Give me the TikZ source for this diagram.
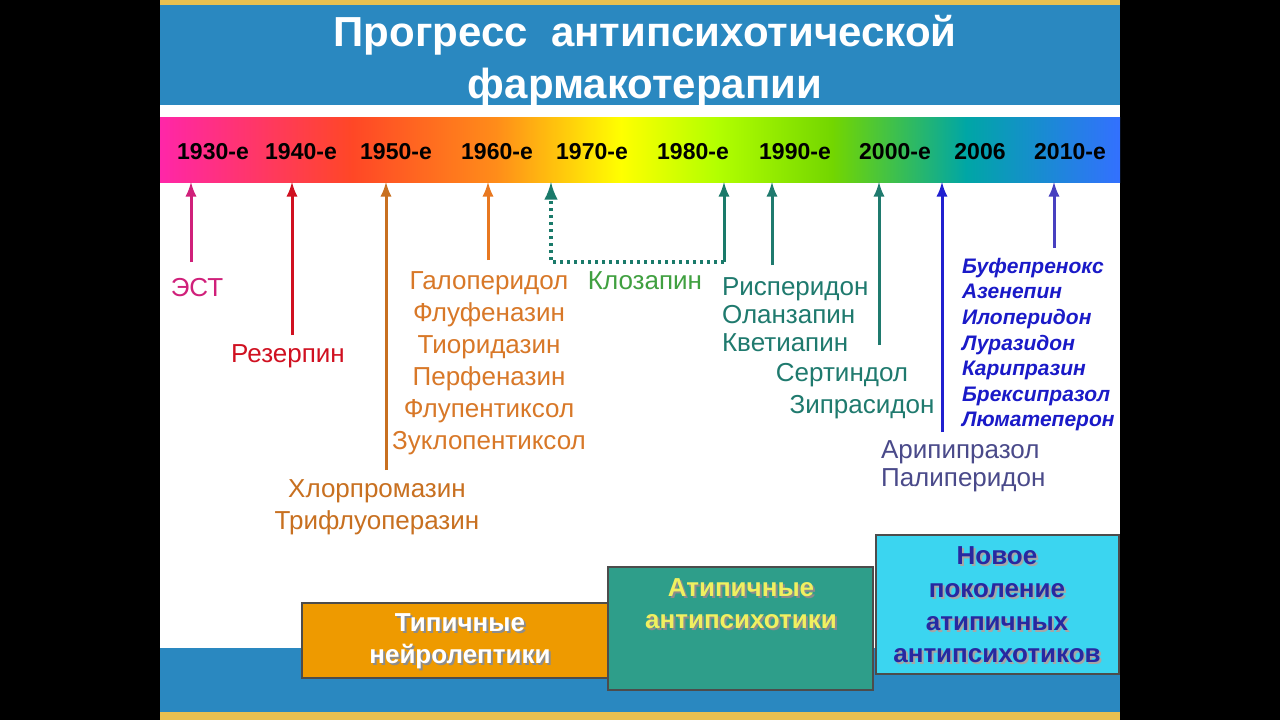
\documentclass[tikz,border=0pt]{standalone}
\usepackage{fontspec}
\setmainfont{Liberation Sans}
\begin{document}
\definecolor{tband}{HTML}{2A88C0}
\definecolor{gold}{HTML}{E8C050}
\pgfdeclarehorizontalshading{rainbow}{100bp}{
 color(0bp)=(magenta!60!red!85!white);
 color(25bp)=(magenta!60!red!85!white);
 color(35bp)=(red!70!orange!85!white);
 color(42.5bp)=(orange!90!white);
 color(49bp)=(yellow);
 color(54bp)=(yellow!70!green);
 color(60bp)=(green!60!black!40!lime);
 color(67bp)=(teal!70!cyan);
 color(75bp)=(blue!70!cyan!80!white);
 color(100bp)=(blue!70!cyan!80!white)}
\begin{tikzpicture}[x=0.5pt,y=-0.5pt,
 yr/.style={font=\bfseries\fontsize{11.5}{14}\selectfont,text=black},
 lab/.style={font=\fontsize{13}{14}\selectfont,align=center},
 arr/.style={-latex,line width=1.5pt},
 box/.style={draw=black!70,line width=0.6pt},
 btxt/.style={font=\bfseries\fontsize{13}{16}\selectfont,align=center},
 shad/.style={btxt,text=black!45}]
\useasboundingbox (0,0) rectangle (1280,720);
\fill[black] (0,0) rectangle (1280,720);
\fill[white] (160,0) rectangle (1120,720);
\fill[gold] (160,0) rectangle (1120,5);
\fill[tband] (160,5) rectangle (1120,105);
\node[font=\bfseries\fontsize{21}{26}\selectfont,text=white,align=center] (title) at (645,61) {Прогресс\ \ антипсихотической\\фармакотерапии};
\shade[shading=rainbow] (160,117) rectangle (1120,182);
\fill[tband] (160,648) rectangle (1120,712);
\fill[gold] (160,712) rectangle (1120,720);
\foreach \n/\x/\t in {a/213/1930-е,b/301/1940-е,c/396/1950-е,d/497/1960-е,e/592/1970-е,f/693/1980-е,g/795/1990-е,h/895/2000-е,i/980/2006,j/1070/2010-е}
  \node[yr] (y\n) at (\x,152) {\t};
% arrows
\coordinate (h1) at (191,182); \coordinate (s1) at (191,262);
\draw[arr,color={rgb,255:red,208;green,32;blue,122}] (s1) -- (h1);
\node[lab,text={rgb,255:red,208;green,32;blue,122}] (est) at (197,288) {ЭСТ};
\coordinate (h2) at (292,182); \coordinate (s2) at (292,335);
\draw[arr,color={rgb,255:red,208;green,16;blue,32}] (s2) -- (h2);
\node[lab,text={rgb,255:red,208;green,16;blue,32}] (rez) at (288,356) {Резерпин};
\coordinate (h3) at (386,182); \coordinate (s3) at (386,470);
\draw[arr,color={rgb,255:red,200;green,112;blue,32}] (s3) -- (h3);
\node[lab,text={rgb,255:red,200;green,112;blue,32},font=\fontsize{13}{16}\selectfont] (chl) at (377,507) {Хлорпромазин\\Трифлуоперазин};
\coordinate (h4) at (488,182); \coordinate (s4) at (488,260);
\draw[arr,color={rgb,255:red,232;green,120;blue,32}] (s4) -- (h4);
\node[lab,text={rgb,255:red,216;green,120;blue,40},font=\fontsize{13}{16}\selectfont] (hal) at (489,363) {Галоперидол\\Флуфеназин\\Тиоридазин\\Перфеназин\\Флупентиксол\\Зуклопентиксол};
\coordinate (h5) at (551,182); \coordinate (k1) at (551,262); \coordinate (k2) at (724,262); \coordinate (h6) at (724,182);
\draw[arr,dotted,line width=2pt,color={rgb,255:red,26;green,122;blue,106}] (k2) -- (k1) -- (h5);
\draw[arr,color={rgb,255:red,26;green,122;blue,106}] (k2) -- (h6);
\node[lab,text={rgb,255:red,64;green,160;blue,64}] (kloz) at (645,281) {Клозапин};
\coordinate (h7) at (772,182); \coordinate (s7) at (772,265);
\draw[arr,color={rgb,255:red,31;green,122;blue,110}] (s7) -- (h7);
\node[lab,align=left,anchor=west,text={rgb,255:red,31;green,122;blue,110}] (ris) at (715,315) {Рисперидон\\Оланзапин\\Кветиапин};
\coordinate (h8) at (879,182); \coordinate (s8) at (879,345);
\draw[arr,color={rgb,255:red,31;green,122;blue,110}] (s8) -- (h8);
\node[lab,text={rgb,255:red,31;green,122;blue,110}] (sert) at (842,375) {Сертиндол};
\node[lab,text={rgb,255:red,31;green,122;blue,110}] (zip) at (862,407) {Зипрасидон};
\coordinate (h9) at (942,182); \coordinate (s9) at (942,432);
\draw[arr,color={rgb,255:red,32;green,32;blue,208}] (s9) -- (h9);
\node[lab,align=left,anchor=west,text={rgb,255:red,74;green,74;blue,138}] (ari) at (874,466) {Арипипразол\\Палиперидон};
\coordinate (h10) at (1054,182); \coordinate (s10) at (1054,248);
\draw[arr,color={rgb,255:red,72;green,64;blue,192}] (s10) -- (h10);
\node[anchor=north west,align=left,font=\bfseries\itshape\fontsize{10.5}{12.8}\selectfont,text={rgb,255:red,26;green,26;blue,200}] (buf) at (955,251) {Буфепренокс\\Азенепин\\Илоперидон\\Луразидон\\Карипразин\\Брексипразол\\Люматеперон};
% boxes
\draw[box,fill={rgb,255:red,238;green,154;blue,0}] (302,603) rectangle (610,678);
\node[shad] at (462,643) {Типичные\\нейролептики};
\node[btxt,text=white] (typ) at (460,641) {Типичные\\нейролептики};
\draw[box,fill={rgb,255:red,46;green,158;blue,138}] (608,567) rectangle (873,690);
\node[shad] at (743,606) {Атипичные\\антипсихотики};
\node[btxt,text={rgb,255:red,240;green,240;blue,96}] (atyp) at (741,604) {Атипичные\\антипсихотики};
\draw[box,fill={rgb,255:red,59;green,213;blue,240}] (876,535) rectangle (1119,674);
\node[shad,text=black!35,font=\bfseries\fontsize{13}{16.3}\selectfont] at (999,607) {Новое\\поколение\\атипичных\\антипсихотиков};
\node[btxt,text={rgb,255:red,40;green,40;blue,160},font=\bfseries\fontsize{13}{16.3}\selectfont] (new) at (997,605) {Новое\\поколение\\атипичных\\антипсихотиков};
\end{tikzpicture}
\end{document}
